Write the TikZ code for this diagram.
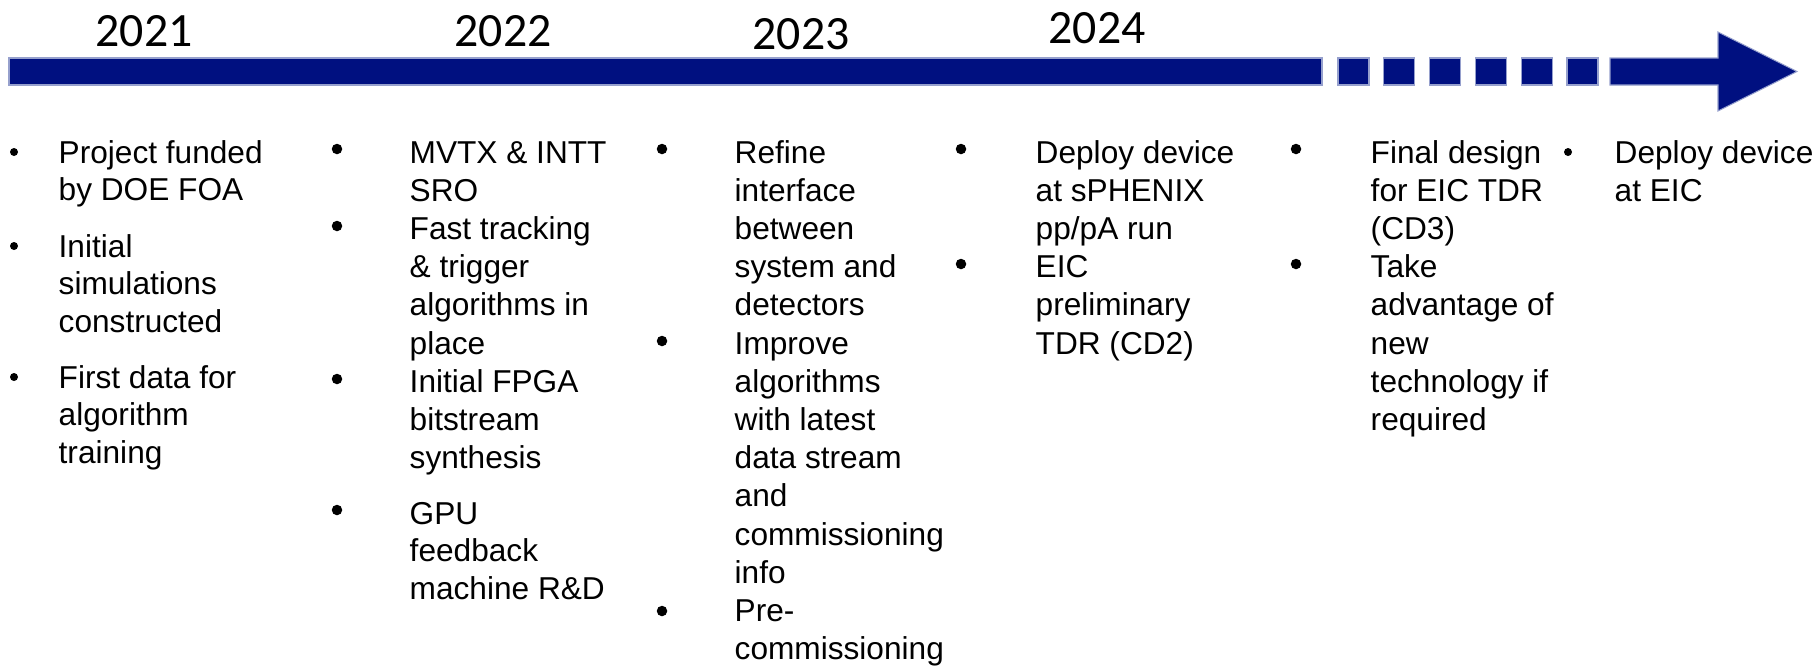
\documentclass[tikz,border=0pt]{standalone}
\usepackage{fontspec}
\setmainfont{Liberation Sans}
\newfontfamily\yearfamily{Carlito}
\definecolor{barblue}{RGB}{0,16,128}
\definecolor{baredge}{RGB}{150,160,205}
\begin{document}
\begin{tikzpicture}[
    x=0.1mm, y=-0.1mm,
    year/.style={font=\yearfamily\fontsize{13.6}{16}\selectfont,
        anchor=base, inner sep=0pt},
    entry/.style={font=\fontsize{9}{10.87}\selectfont,
        align=left, anchor=base west, inner sep=0pt},
    entrytight/.style={entry, font=\fontsize{9}{10.67}\selectfont},
    smalldot/.style={circle, fill=black, inner sep=0pt, minimum size=0.8mm},
    bigdot/.style={circle, fill=black, inner sep=0pt, minimum size=1.05mm},
    bar/.style={fill=barblue, draw=baredge, line width=0.3pt}
]
    \useasboundingbox (0,0) rectangle (1820,668);

    % timeline arrow
    \draw[bar] (9,58) rectangle (1322,85);
    \foreach \i in {0,...,5}
        \draw[bar] (1338+45.8*\i,58) rectangle ++(31,27);
    \draw[bar] (1610,58) -- (1718,58) -- (1718,32) -- (1797,71.5)
        -- (1718,111) -- (1718,85) -- (1610,85) -- cycle;

    % years
    \node[year] (y2021) at (144,46) {2021};
    \node[year] (y2022) at (503,46) {2022};
    \node[year] (y2023) at (801,49) {2023};
    \node[year] (y2024) at (1097,43) {2024};

    % 2021 (entries sit on the baseline of their last line)
    \node[smalldot] (dfunded) at (14,152) {};
    \node[entrytight] (funded) at (58,200.5) {Project funded\\by DOE FOA};
    \node[smalldot] (dsims) at (14,246) {};
    \node[entrytight] (sims) at (58,332) {Initial\\simulations\\constructed};
    \node[smalldot] (ddata) at (14,377) {};
    \node[entrytight] (firstdata) at (58,463) {First data for\\algorithm\\training};

    % 2022
    \node[bigdot] (dsro) at (337,149) {};
    \node[entry] (sro) at (409,201.2) {MVTX \& INTT\\SRO};
    \node[bigdot] (dtracking) at (337,226) {};
    \node[entry] (tracking) at (409,354) {Fast tracking\\\& trigger\\algorithms in\\place};
    \node[bigdot] (dfpga) at (337,379) {};
    \node[entry] (fpga) at (409,468.6) {Initial FPGA\\bitstream\\synthesis};
    \node[bigdot] (dgpu) at (337,510) {};
    \node[entrytight] (gpu) at (409,599) {GPU\\feedback\\machine R\&D};

    % 2023
    \node[bigdot] (drefine) at (662,149) {};
    \node[entry] (refine) at (734,315.8) {Refine\\interface\\between\\system and\\detectors};
    \node[bigdot] (dimprove) at (662,341) {};
    \node[entry] (improve) at (734,583.2) {Improve\\algorithms\\with latest\\data stream\\and\\commissioning\\info};
    \node[bigdot] (dprecomm) at (662,611) {};
    \node[entry] (precomm) at (734,659.6) {Pre-\\commissioning};

    % 2024
    \node[bigdot] (dsphenix) at (961,149) {};
    \node[entry] (sphenix) at (1035,239.4) {Deploy device\\at sPHENIX\\pp/pA run};
    \node[bigdot] (dprelim) at (961,264) {};
    \node[entry] (prelim) at (1035,354) {EIC\\preliminary\\TDR (CD2)};

    % later
    \node[bigdot] (dfinal) at (1296,149) {};
    \node[entry] (final) at (1370,239.4) {Final design\\for EIC TDR\\(CD3)};
    \node[bigdot] (dnewtech) at (1296,264) {};
    \node[entry] (newtech) at (1370,430.4) {Take\\advantage of\\new\\technology if\\required};
    \node[smalldot] (deic) at (1568,152) {};
    \node[entry] (eic) at (1614,201.2) {Deploy device\\at EIC};
\end{tikzpicture}
\end{document}
